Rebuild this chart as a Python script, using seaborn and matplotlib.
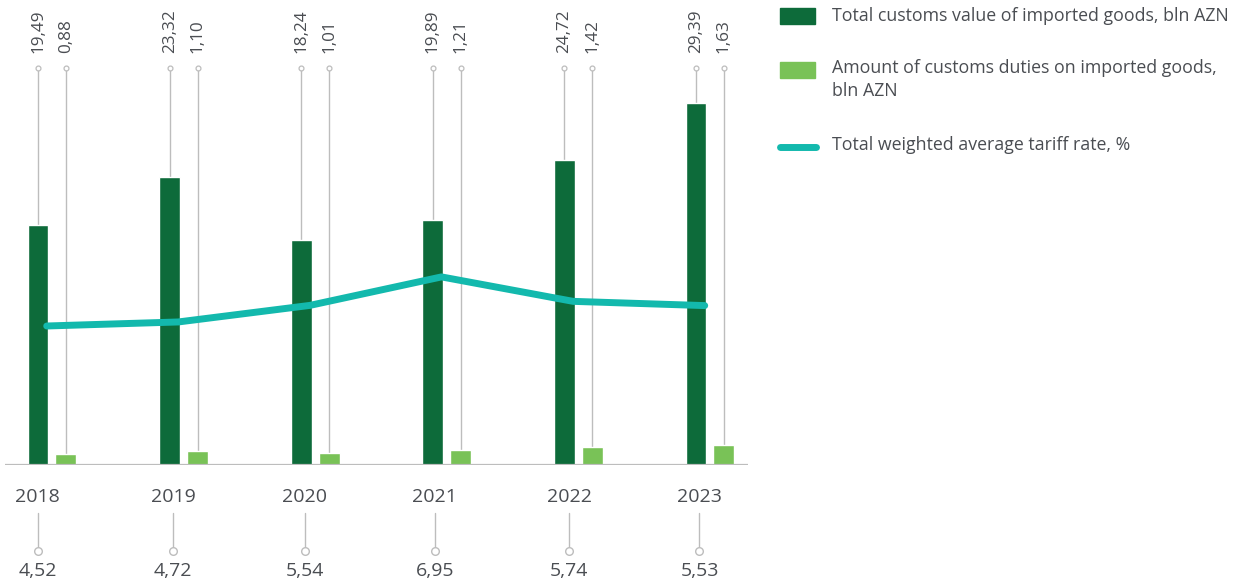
import matplotlib
matplotlib.use("Agg")
import matplotlib.pyplot as plt
import numpy as np
import pandas as pd
import seaborn as sns
from matplotlib.lines import Line2D
from matplotlib.patches import Rectangle

# %% Data
years = ["2018", "2019", "2020", "2021", "2022", "2023"]
customs_value = [19.49, 23.32, 18.24, 19.89, 24.72, 29.39]
customs_duties = [0.88, 1.10, 1.01, 1.21, 1.42, 1.63]
tariff_rate = [4.52, 4.72, 5.54, 6.95, 5.74, 5.53]

LABEL_VALUE = "Total customs value of imported goods, bln AZN"
LABEL_DUTIES = "Amount of customs duties on imported goods,\nbln AZN"
LABEL_RATE = "Total weighted average tariff rate, %"

DARK_GREEN = "#0d6b3a"
LIGHT_GREEN = "#79c257"
TEAL = "#13b9ad"
TEXT_COLOR = "#4a4d52"
GRID_GRAY = "#bdbdbd"

sns.set_theme(style="white")
plt.rcParams["font.family"] = ["Open Sans", "DejaVu Sans"]

df = pd.DataFrame({
    "year": years * 2,
    "value": customs_value + customs_duties,
    "series": ["value"] * len(years) + ["duties"] * len(years),
})

# %% Figure / axes geometry (pixels -> fractions)
W, H = 1233, 584
fig = plt.figure(figsize=(W / 100, H / 100), dpi=100)
ax_left, ax_right, ax_base, ax_top = 5, 748, 465, 68
ax = fig.add_axes([ax_left / W, (H - ax_base) / H,
                   (ax_right - ax_left) / W, (ax_base - ax_top) / H])

sns.barplot(data=df, x="year", y="value", hue="series",
            palette=[DARK_GREEN, LIGHT_GREEN], width=0.424, gap=0.25,
            legend=False, ax=ax, saturation=1)

xlim = (-0.357, 5.289)
ax.set_xlim(*xlim)
ax.set_ylim(0, 32.2)
for s in ax.spines.values():
    s.set_visible(False)
ax.set_xticks([])
ax.set_yticks([])
ax.set_xlabel("")
ax.set_ylabel("")
ax.axhline(0, color=GRID_GRAY, lw=1.6, zorder=1)

# leader lines + rotated value labels above each bar
trans = ax.get_xaxis_transform()
bar_values = customs_value + customs_duties
for patch, v in zip(ax.patches, bar_values):
    xc = patch.get_x() + patch.get_width() / 2
    top = patch.get_height()
    ax.plot([xc, xc], [top, 32.2], color=GRID_GRAY, lw=1.0, zorder=0.5)
    ax.plot([xc], [1.0], transform=trans, marker="o", ms=3.5, mfc="white",
            mec=GRID_GRAY, mew=0.9, clip_on=False, zorder=3)
    ax.text(xc, 1.038, f"{v:.2f}".replace(".", ","), transform=trans,
            rotation=90, ha="center", va="bottom", fontsize=12.3,
            color=TEXT_COLOR)

# %% Tariff rate line on a twin axis
ax2 = ax.twinx()
pos = np.arange(len(years))
sns.lineplot(x=pos - 0.04, y=tariff_rate, ax=ax2, color=TEAL, lw=5,
             solid_capstyle="round", zorder=5)
ax2.set_xlim(*xlim)
ax2.set_ylim(-2.36, 17.29)
for s in ax2.spines.values():
    s.set_visible(False)
ax2.set_yticks([])
ax2.set_ylabel("")

# %% Year labels and tariff values below axis
label_shift = [-0.11, -0.08, -0.08, -0.09, -0.07, -0.08]
for i, (yr, r) in enumerate(zip(years, tariff_rate)):
    x = i + label_shift[i]
    ax.text(x, -0.0806, yr, transform=trans, ha="center", va="center",
            fontsize=14, color=TEXT_COLOR)
    ax.plot([x, x], [-0.121, -0.207], transform=trans, color=GRID_GRAY,
            lw=1.0, clip_on=False)
    ax.plot([x], [-0.2166], transform=trans, marker="o", ms=5.5,
            mfc="white", mec=GRID_GRAY, mew=1.0, clip_on=False)
    ax.text(x, -0.267, f"{r:.2f}".replace(".", ","), transform=trans,
            ha="center", va="center", fontsize=14, color=TEXT_COLOR)

# %% Legend (drawn by hand to match layout)
def fx(px):
    return px / W


def fy(py):
    return (H - py) / H


fig.patches.append(Rectangle((fx(780), fy(24)), fx(35), 16 / H,
                             transform=fig.transFigure, color=DARK_GREEN))
fig.text(fx(832), fy(16), LABEL_VALUE, ha="left", va="center",
         fontsize=12.8, color=TEXT_COLOR)
fig.patches.append(Rectangle((fx(780), fy(78)), fx(35), 16 / H,
                             transform=fig.transFigure, color=LIGHT_GREEN))
fig.text(fx(832), fy(59), LABEL_DUTIES, ha="left", va="top",
         fontsize=12.8, color=TEXT_COLOR, linespacing=1.35)
fig.lines.append(Line2D([fx(780), fx(816)], [fy(147), fy(147)],
                        transform=fig.transFigure, color=TEAL, lw=5,
                        solid_capstyle="round"))
fig.text(fx(832), fy(145), LABEL_RATE, ha="left", va="center",
         fontsize=12.8, color=TEXT_COLOR)

fig.savefig("out.png", dpi=100)
